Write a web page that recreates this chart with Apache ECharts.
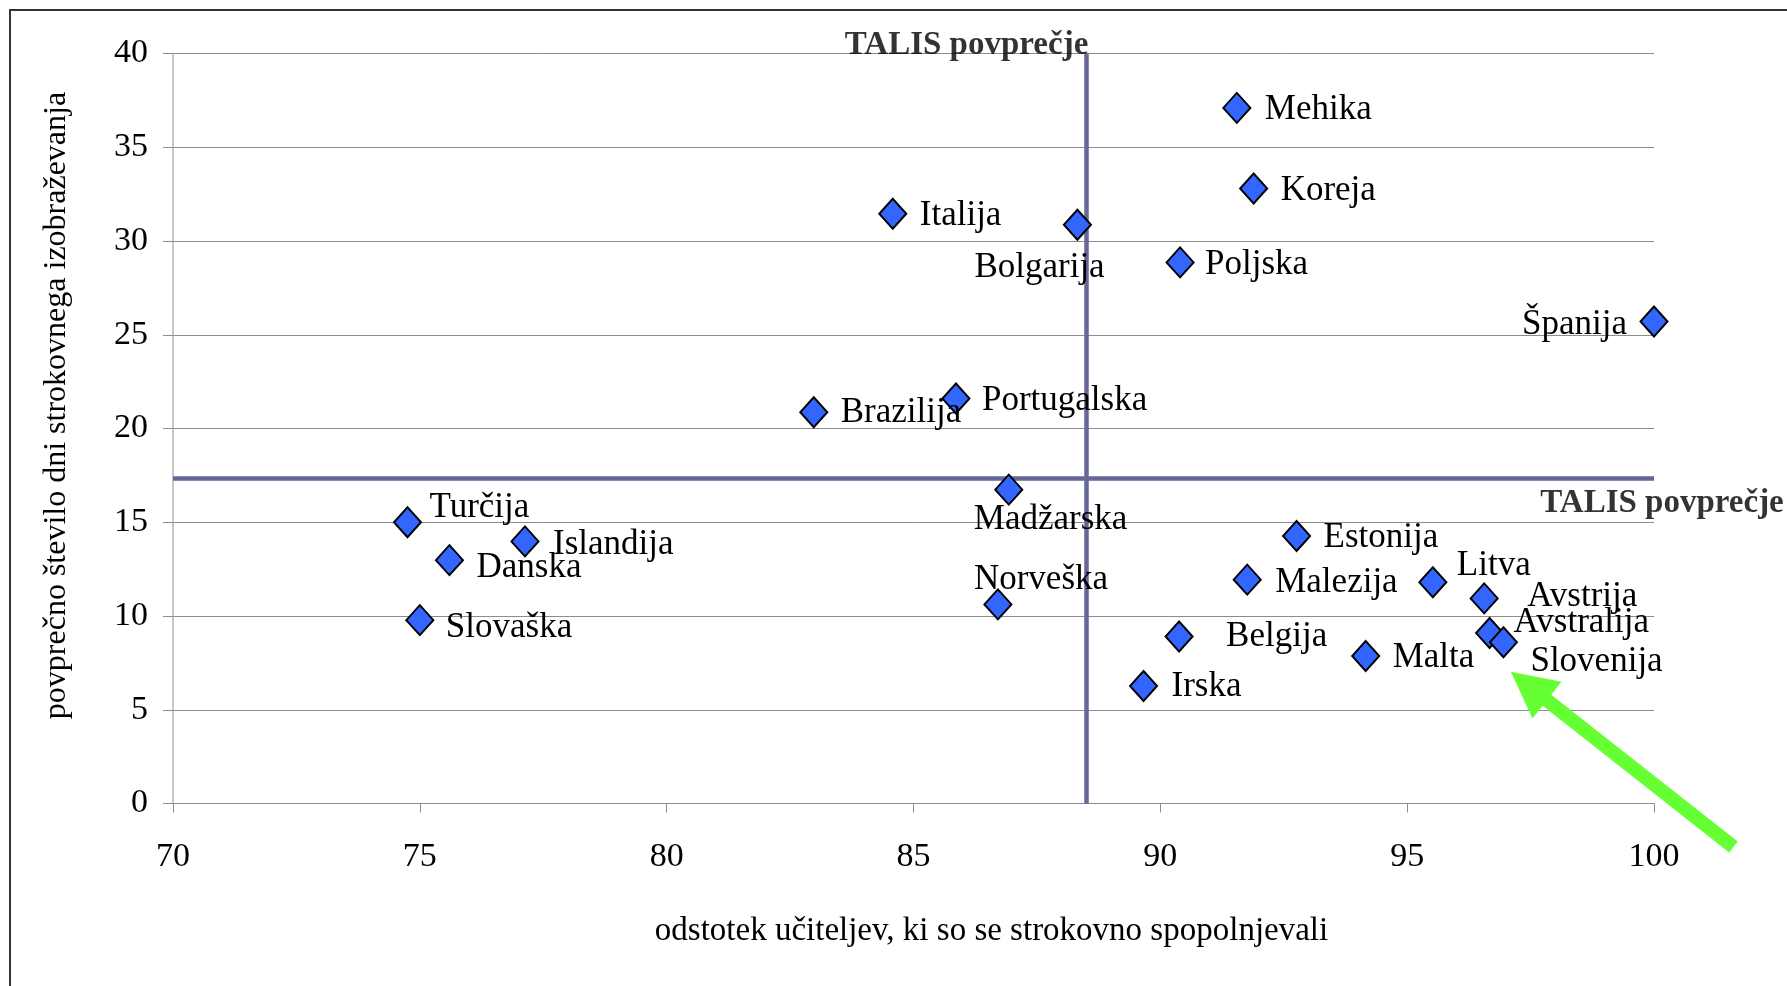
<!DOCTYPE html>
<html><head><meta charset="utf-8">
<script src="https://cdn.jsdelivr.net/npm/echarts@6/dist/echarts.min.js"></script>
<style>html,body{margin:0;padding:0;background:#fff}#c{width:1787px;height:986px}</style>
</head><body><div id="c"></div>
<script>
// ---- data ----
const countries = ['Mehika','Koreja','Italija','Bolgarija','Poljska','Španija','Portugalska','Brazilija','Madžarska','Turčija','Islandija','Danska','Slovaška','Norveška','Estonija','Malezija','Litva','Avstrija','Avstralija','Slovenija','Belgija','Malta','Irska'];
const pctTrained = [91.55, 91.89, 84.58, 88.32, 90.40, 100.0, 85.86, 82.98, 86.93, 74.75, 77.13, 75.60, 75.00, 86.71, 92.76, 91.76, 95.52, 96.56, 96.67, 96.95, 90.38, 94.16, 89.66];
const daysTraining = [37.10, 32.80, 31.45, 30.87, 28.86, 25.71, 21.60, 20.87, 16.74, 15.00, 13.98, 12.98, 9.78, 10.62, 14.27, 11.94, 11.80, 10.94, 9.09, 8.60, 8.91, 7.87, 6.27];
const talisAvgX = 88.5;
const talisAvgY = 17.35;
const talisLabel = 'TALIS povprečje';
const xAxisTitle = 'odstotek učiteljev, ki so se strokovno spopolnjevali';
const yAxisTitle = 'povprečno število dni strokovnega izobraževanja';
const xRange = [70, 100, 5];
const yRange = [0, 40, 5];
// annotation arrow pointing at Slovenija (data units)
const arrowFrom = [101.61, -2.32];
const arrowTo = [97.10, 7.03];

// ---- label placement (layout only) ----
const labelPlacement = {
  'Mehika': [28, 2, 'left'], 'Koreja': [27, 2, 'left'], 'Italija': [27, 2, 'left'],
  'Bolgarija': [-103, 43, 'left'], 'Poljska': [25, 2, 'left'], 'Španija': [-27, 3, 'right'],
  'Portugalska': [26, 2, 'left'], 'Brazilija': [27, 1, 'left'], 'Madžarska': [-35, 30, 'left'],
  'Turčija': [22, -14, 'left'], 'Islandija': [28, 3, 'left'], 'Danska': [27, 8, 'left'],
  'Slovaška': [26, 8, 'left'], 'Norveška': [-24, -25, 'left'], 'Estonija': [27, 2, 'left'],
  'Malezija': [28, 3, 'left'], 'Litva': [24, -16, 'left'], 'Avstrija': [43, -2, 'left'],
  'Avstralija': [24, -10, 'left'], 'Slovenija': [27, 20, 'left'], 'Belgija': [47, 0, 'left'],
  'Malta': [27, 2, 'left'], 'Irska': [28, 1, 'left']
};

const FONT = '"Liberation Serif", "Times New Roman", serif';
const chart = echarts.init(document.getElementById('c'));

const points = countries.map((name, i) => {
  const p = labelPlacement[name];
  return {
    name: name,
    value: [pctTrained[i], daysTraining[i]],
    label: { offset: [p[0], p[1]], align: p[2] }
  };
});

chart.setOption({
  animation: false,
  backgroundColor: '#fff',
  grid: { left: 173, right: 133, top: 53.5, bottom: 182.5 },
  xAxis: {
    type: 'value', min: xRange[0], max: xRange[1], interval: xRange[2],
    name: xAxisTitle, nameLocation: 'middle', nameGap: 111,
    nameTextStyle: { fontFamily: FONT, fontSize: 33, color: '#000', padding: [0, 0, 0, 156] },
    axisLine: { show: true, lineStyle: { color: '#8c8c8c', width: 1 } },
    axisTick: { show: true, length: 9, lineStyle: { color: '#8c8c8c' } },
    axisLabel: { fontFamily: FONT, fontSize: 34, color: '#000', margin: 37 },
    splitLine: { show: false }
  },
  yAxis: {
    type: 'value', min: yRange[0], max: yRange[1], interval: yRange[2],
    name: yAxisTitle, nameLocation: 'middle', nameGap: 100,
    nameTextStyle: { fontFamily: FONT, fontSize: 32, color: '#000', padding: [0, 0, 0, 46] },
    axisLine: { show: true, lineStyle: { color: '#b4b4b4', width: 1.5 } },
    axisTick: { show: true, length: 10, lineStyle: { color: '#8c8c8c' } },
    axisLabel: { fontFamily: FONT, fontSize: 34, color: '#000', margin: 25 },
    splitLine: { show: true, lineStyle: { color: '#8c8c8c', width: 1 } }
  },
  series: [
    {
      type: 'scatter',
      symbol: 'diamond',
      symbolSize: [27, 30],
      itemStyle: { color: '#3366ff', borderColor: '#000', borderWidth: 2, opacity: 1 },
      label: {
        show: true, position: 'inside', formatter: '{b}',
        fontFamily: FONT, fontSize: 35, color: '#000', verticalAlign: 'middle'
      },
      data: points,
      z: 3,
      markLine: {
        silent: true, symbol: 'none', animation: false,
        lineStyle: { color: '#666699', width: 4.5, type: 'solid' },
        label: { show: false },
        data: [{ xAxis: talisAvgX }, { yAxis: talisAvgY }],
        z: 2
      }
    },
    {
      type: 'scatter',
      symbolSize: 0,
      silent: true,
      itemStyle: { color: 'rgba(0,0,0,0)' },
      label: {
        show: true, position: 'inside', formatter: '{b}',
        fontFamily: FONT, fontSize: 33, fontWeight: 'bold', color: '#000'
      },
      data: [
        { name: talisLabel, value: [talisAvgX, yRange[1]], label: { align: 'right', verticalAlign: 'bottom', offset: [2, 8] } },
        { name: talisLabel, value: [xRange[1], talisAvgY], label: { align: 'center', verticalAlign: 'middle', offset: [8, 25] } }
      ],
      z: 4
    }
  ]
});

// annotation: outer frame and arrow
const S = chart.convertToPixel({ gridIndex: 0 }, arrowFrom);
const T = chart.convertToPixel({ gridIndex: 0 }, arrowTo);
const dx = T[0] - S[0], dy = T[1] - S[1];
const L = Math.hypot(dx, dy);
const ux = dx / L, uy = dy / L, nx = -uy, ny = ux;
const headLen = 46, headHalf = 23.5, shaftHalf = 7;
const Bx = T[0] - ux * headLen, By = T[1] - uy * headLen;
const poly = [
  [S[0] + nx * shaftHalf, S[1] + ny * shaftHalf],
  [Bx + nx * shaftHalf, By + ny * shaftHalf],
  [Bx + nx * headHalf, By + ny * headHalf],
  [T[0], T[1]],
  [Bx - nx * headHalf, By - ny * headHalf],
  [Bx - nx * shaftHalf, By - ny * shaftHalf],
  [S[0] - nx * shaftHalf, S[1] - ny * shaftHalf]
];
chart.setOption({
  graphic: [
    { type: 'rect', shape: { x: 10, y: 10, width: 1800, height: 1000 }, style: { fill: 'none', stroke: '#333', lineWidth: 2 }, silent: true, z: 0 },
    { type: 'polygon', shape: { points: poly }, style: { fill: '#66ff33' }, silent: true, z: 10 }
  ]
});
</script></body></html>
